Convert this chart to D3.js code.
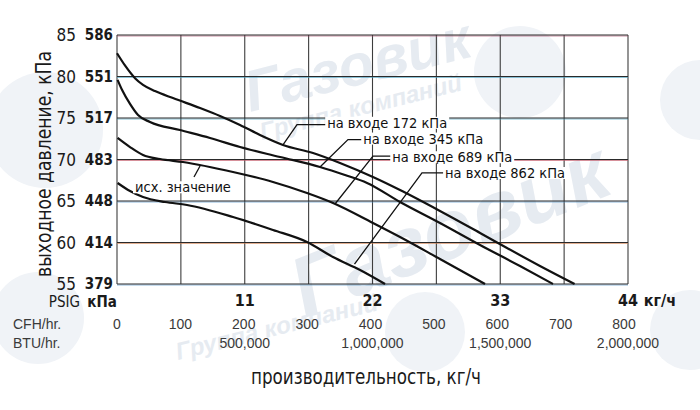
<!DOCTYPE html>
<html><head><meta charset="utf-8">
<script src="https://cdn.jsdelivr.net/npm/d3@7"></script>
<style>
html,body{margin:0;padding:0;background:#fff;}
svg{display:block;}
</style></head>
<body>
<svg id="chart" width="700" height="410"></svg>
<script>
// ---------- data ----------
const psigTicks = [55, 60, 65, 70, 75, 80, 85];
const kpaTicks  = [379, 414, 448, 483, 517, 551, 586];
const flowGrid  = [0, 5.5, 11, 16.5, 22, 27.5, 33, 38.5, 44];
const flowTicks = [11, 22, 33, 44];
const cfhTicks  = [0, 100, 200, 300, 400, 500, 600, 700, 800];
const btuTicks  = [500000, 1000000, 1500000, 2000000];

// curves: [kg/h, PSIG]
const curve172 = [[0,82.8],[0.7,81.3],[1.55,79.8],[2.24,79.0],[3.27,78.25],[4.82,77.4],[7.15,76.2],[8.87,75.24],[10.59,74.16],[12.31,72.95],[14.29,71.75],[16.88,70.78],[19.2,69.58],[22.04,67.89],[24.37,66.32],[27.81,63.8],[31.26,61.15],[33.58,59.34],[36.42,57.17],[39.4,55]];
const curve345 = [[0.05,79.6],[0.43,78.4],[1.12,76.7],[1.81,75.36],[2.84,74.52],[5.42,73.55],[8.01,72.59],[10.59,71.5],[14.04,70.3],[17.48,69.1],[19.63,68.13],[21.53,67.17],[24.37,64.88],[27.81,62.35],[31.26,59.7],[34.7,57.17],[37.54,55]];
const curve689 = [[0.05,72.6],[1.12,71.5],[2.24,70.54],[3.7,70.06],[5.68,69.7],[9.99,68.49],[13.43,67.29],[16.36,65.96],[18.6,64.76],[22.04,62.35],[24.37,60.66],[27.81,58.01],[31.69,55]];
const curve862 = [[0.05,67.17],[1.12,66.2],[2.24,65.48],[4.13,64.88],[6.03,64.52],[9.99,63.07],[13.43,61.51],[16.36,60.06],[18.6,58.25],[20.93,56.69],[23.08,55]];

// labels: text, text start [kg/h, PSIG], elbow, tip on curve
const labelText  = ["на входе 172 кПа", "на входе 345 кПа", "на входе 689 кПа", "на входе 862 кПа"];
const labelStart = [[18.1, 74.45], [21.2, 72.55], [23.7, 70.3], [28.25, 68.4]];
const labelElbow = [[15.5, 74.2], [19.89, 72.4], [22.04, 70.4], [26.26, 68.4]];
const labelTip   = [[14.29, 71.75], [17.48, 69.1], [18.77, 64.64], [20.45, 57.4]];
const baseLabel  = "исх. значение";
const baseLabelPos = [5.68, 66.68];
const baseLeader = [[6.63, 67.89], [7.15, 69.22]];

const yTitle = "выходное давление, кПа";
const xTitle = "производительность, кг/ч";

// ---------- layout ----------
const L = 117, R = 628, T = 35, B = 284;
const NARROW = '"Liberation Sans Narrow","DejaVu Sans Condensed","Roboto Condensed","Arial Narrow",sans-serif';
const ARIAL = '"Liberation Sans",Arial,Helvetica,sans-serif';

const svg = d3.select("#chart");
const x = d3.scaleLinear().domain([0, 44]).range([L, R]);
const y = d3.scaleLinear().domain([55, 85]).range([B, T]);
const xCfh = d3.scaleLinear().domain([0, 800]).range([L, R - 4]);
const xBtu = d3.scaleLinear().domain([0, 2000000]).range([L, R]);

// ---------- watermark ----------
const wm = svg.append("g").attr("fill", "#e6ebf1");
[[45,130,58],[520,72,46],[38,318,46],[425,332,40],[690,330,40],[700,100,40]].forEach(c=>{
  wm.append("circle").attr("cx",c[0]).attr("cy",c[1]).attr("r",c[2]).attr("fill","#f0f3f7");
});
function wmText(t, tx, ty, rot, size){
  wm.append("text").attr("transform",`translate(${tx},${ty}) rotate(${rot})`)
    .attr("font-family", ARIAL).attr("font-size", size).attr("font-weight", "bold")
    .attr("font-style","italic").text(t);
}
wmText("Газовик", 250, 112, -14, 58);
wmText("Группа компаний", 262, 140, -14, 24);
wmText("Газовик", 305, 318, -22, 84);
wmText("Группа компаний", 178, 360, -14, 24);

// ---------- grid ----------
const grid = svg.append("g");
grid.selectAll("line.v").data(flowGrid).join("line")
  .attr("x1", d => x(d)).attr("x2", d => x(d)).attr("y1", T).attr("y2", B)
  .attr("stroke", "#3d3d3d").attr("stroke-width", 1.1);
grid.selectAll("line.hc").data(psigTicks).join("line")
  .attr("x1", L).attr("x2", R).attr("y1", d => y(d) + 1).attr("y2", d => y(d) + 1)
  .attr("stroke", (d,i) => ["#4a90c8","#d08050","#4a90c8","#c05060","#3a9ab8","#4aa0c0","#b05070"][i])
  .attr("stroke-width", 0.9).attr("opacity", 0.7);
grid.selectAll("line.h").data(psigTicks).join("line")
  .attr("x1", L).attr("x2", R).attr("y1", d => y(d)).attr("y2", d => y(d))
  .attr("stroke", "#2a2a2a").attr("stroke-width", 1.2);

// ---------- axes labels ----------
const ax = svg.append("g").attr("fill", "#1a1a1a");
ax.selectAll("text.psig").data(psigTicks).join("text")
  .attr("x", 76).attr("y", d => y(d)).attr("dy", "0.36em")
  .attr("text-anchor", "end").attr("font-family", NARROW).attr("font-size", 17)
  .text(d => d);
ax.selectAll("text.kpa").data(kpaTicks).join("text")
  .attr("x", 113).attr("y", (d,i) => y(psigTicks[i])).attr("dy", "0.36em")
  .attr("text-anchor", "end").attr("font-family", NARROW).attr("font-size", 15)
  .attr("font-weight", "bold").text(d => d);
ax.append("text").attr("x", 80).attr("y", 302).attr("dy","0.36em").attr("text-anchor","end")
  .attr("font-family", NARROW).attr("font-size", 15).text("PSIG");
ax.append("text").attr("x", 102).attr("y", 302).attr("dy","0.36em").attr("text-anchor","middle")
  .attr("font-family", NARROW).attr("font-size", 15).attr("font-weight","bold").text("кПа");
ax.selectAll("text.flow").data(flowTicks).join("text")
  .attr("x", d => x(d)).attr("y", 300).attr("dy","0.36em").attr("text-anchor","middle")
  .attr("font-family", NARROW).attr("font-size", 16).attr("font-weight","bold").text(d => d);
ax.append("text").attr("x", 660).attr("y", 300).attr("dy","0.36em").attr("text-anchor","middle")
  .attr("font-family", NARROW).attr("font-size", 16).attr("font-weight","bold").text("кг/ч");

const fmt = d3.format(",");
const sub = svg.append("g").attr("fill", "#3a3a3a").attr("font-family", ARIAL).attr("font-size", 14);
sub.append("text").attr("x", 13).attr("y", 324).attr("dy","0.36em").text("CFH/hr.");
sub.append("text").attr("x", 13).attr("y", 343).attr("dy","0.36em").text("BTU/hr.");
sub.selectAll("text.cfh").data(cfhTicks).join("text")
  .attr("x", d => xCfh(d)).attr("y", 324).attr("dy","0.36em").attr("text-anchor","middle").text(d => d);
sub.selectAll("text.btu").data(btuTicks).join("text")
  .attr("x", d => xBtu(d)).attr("y", 343).attr("dy","0.36em").attr("text-anchor","middle").text(d => fmt(d));

svg.append("text").attr("x", 366).attr("y", 376).attr("dy","0.36em").attr("text-anchor","middle")
  .attr("font-family", NARROW).attr("font-size", 21).attr("fill","#1a1a1a")
  .attr("textLength", 230).attr("lengthAdjust", "spacingAndGlyphs").text(xTitle);
svg.append("text").attr("transform", "translate(43,164) rotate(-90)").attr("dy","0.36em")
  .attr("text-anchor","middle").attr("font-family", NARROW).attr("font-size", 22)
  .attr("textLength", 226).attr("lengthAdjust", "spacingAndGlyphs")
  .attr("fill","#1a1a1a").text(yTitle);

// ---------- curves ----------
const line = d3.line().x(d => x(d[0])).y(d => y(d[1])).curve(d3.curveMonotoneX);
svg.append("g").selectAll("path").data([curve172, curve345, curve689, curve862]).join("path")
  .attr("d", line).attr("fill", "none").attr("stroke", "#111").attr("stroke-width", 2.2)
  .attr("stroke-linejoin","round");

// ---------- labels ----------
const lab = svg.append("g");
labelText.forEach((t, i) => {
  const tx = x(labelStart[i][0]), ty = y(labelStart[i][1]);
  const txt = lab.append("text").attr("x", tx).attr("y", ty).attr("dy","0.36em")
    .attr("font-family", NARROW).attr("font-size", 14.5).attr("fill","#111").text(t);
  const bb = txt.node().getBBox();
  lab.insert("rect", "text").attr("x", bb.x - 2).attr("y", bb.y + 2).attr("width", bb.width + 4)
    .attr("height", bb.height - 4).attr("fill", "#fff");
  lab.append("polyline")
    .attr("points", [[x(labelTip[i][0]), y(labelTip[i][1])], [x(labelElbow[i][0]), y(labelElbow[i][1])], [tx - 2, y(labelElbow[i][1])]].map(p => p.join(",")).join(" "))
    .attr("fill","none").attr("stroke","#111").attr("stroke-width",1.3);
});
{
  const txt = lab.append("text").attr("x", x(baseLabelPos[0])).attr("y", y(baseLabelPos[1])).attr("dy","0.36em")
    .attr("text-anchor","middle").attr("font-family", NARROW).attr("font-size", 14.5).attr("fill","#111").text(baseLabel);
  const bb = txt.node().getBBox();
  lab.insert("rect", "text").attr("x", bb.x - 2).attr("y", bb.y + 2).attr("width", bb.width + 4)
    .attr("height", bb.height - 4).attr("fill", "#fff");
  lab.append("line").attr("x1", x(baseLeader[0][0])).attr("y1", y(baseLeader[0][1]))
    .attr("x2", x(baseLeader[1][0])).attr("y2", y(baseLeader[1][1]))
    .attr("stroke","#111").attr("stroke-width",1.3);
}
</script>
</body></html>
